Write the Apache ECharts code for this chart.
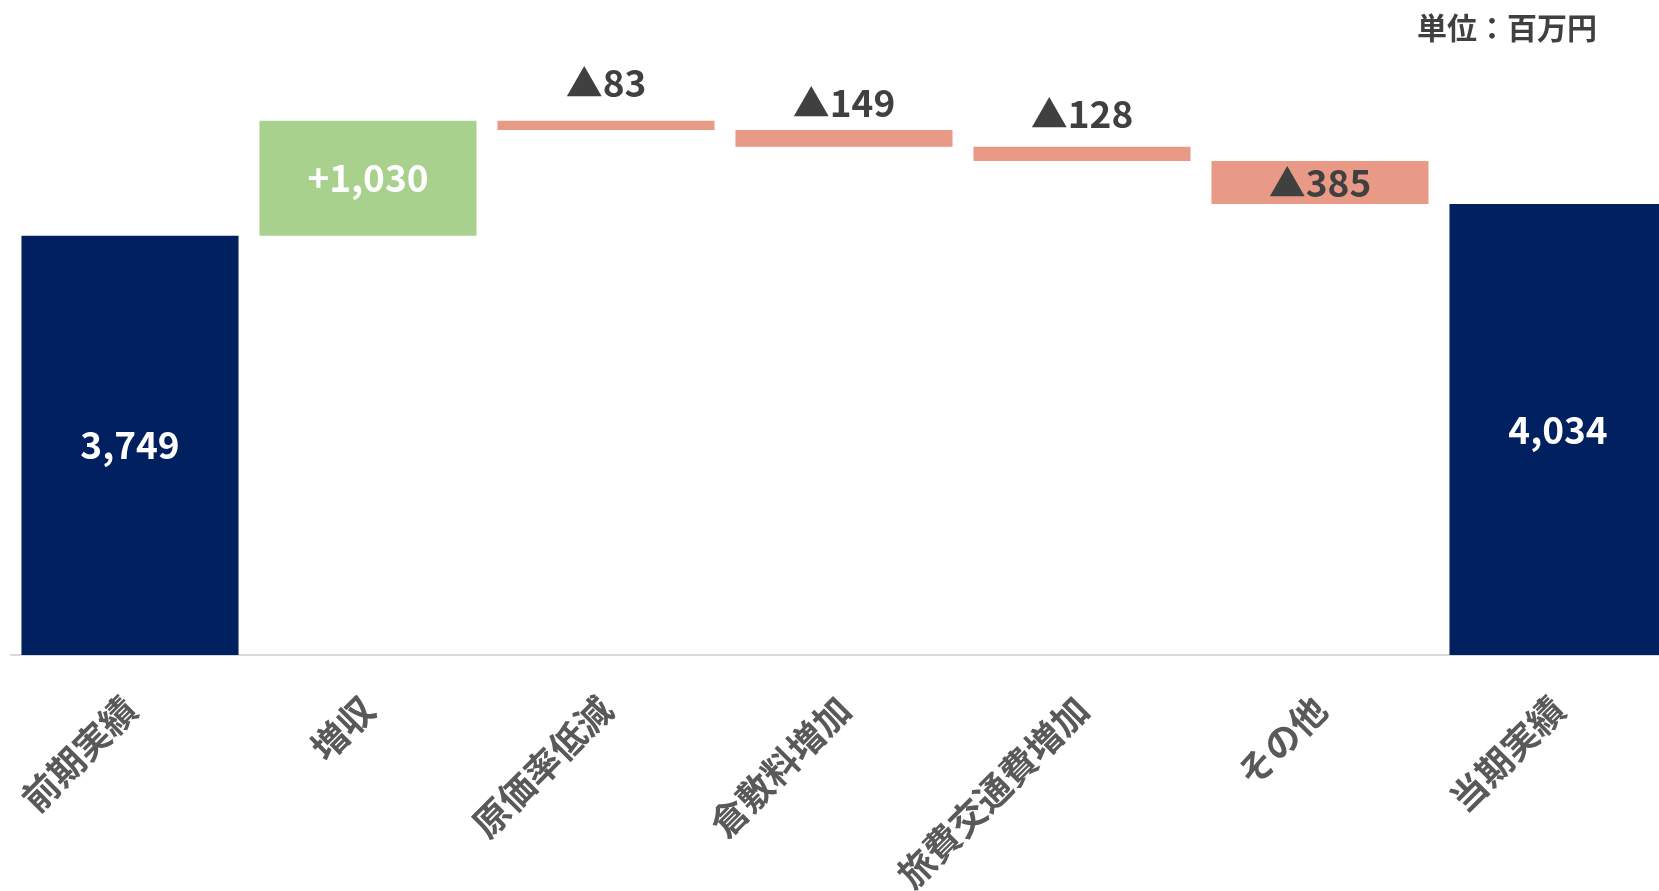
<!DOCTYPE html>
<html>
<head>
<meta charset="utf-8">
<script src="https://cdn.jsdelivr.net/npm/echarts@6/dist/echarts.min.js"></script>
<style>
  html, body { margin: 0; padding: 0; background: #ffffff; overflow: hidden; }
  #chart { width: 1680px; height: 891px; }
</style>
</head>
<body>
<div id="chart"></div>
<script>
// 営業利益の増減要因（単位：百万円）
const categories = ['前期実績', '増収', '原価率低減', '倉敷料増加', '旅費交通費増加', 'その他', '当期実績'];
const kinds = ['total', 'delta', 'delta', 'delta', 'delta', 'delta', 'total'];
const values = [3749, 1030, -83, -149, -128, -385, 4034];
const unitText = '単位：百万円';

// label placement per bar (thin bars carry their label above)
const labelPlacement = ['inside', 'inside', 'top', 'top', 'top', 'inside', 'inside'];
const labelGap = [0, 0, 19, 9, 14, 0, 0];

const NAVY = '#002060';
const GREEN = '#A9D18E';
const SALMON = '#E99A86';
const DARK = '#404040';
const FONT = "'Noto Sans CJK JP', 'Noto Sans', sans-serif";

// invisible base + visible step for each bar
const baseData = [];
const stepData = [];
let running = 0;
values.forEach((v, i) => {
  let base, h, color, text, textColor;
  if (kinds[i] === 'total') {
    base = 0; h = v; running = v;
    color = NAVY; textColor = '#ffffff';
    text = v.toLocaleString('en-US');
  } else if (v >= 0) {
    base = running; h = v; running += v;
    color = GREEN; textColor = '#ffffff';
    text = '+' + v.toLocaleString('en-US');
  } else {
    running += v; base = running; h = -v;
    color = SALMON; textColor = DARK;
    text = '▲' + (-v).toLocaleString('en-US');
  }
  baseData.push(base);
  stepData.push({
    value: h,
    itemStyle: { color: color },
    label: {
      show: true,
      position: labelPlacement[i],
      distance: labelGap[i],
      color: textColor,
      formatter: () => text
    }
  });
});

const chart = echarts.init(document.getElementById('chart'), null, { renderer: 'canvas' });
chart.setOption({
  animation: false,
  backgroundColor: '#ffffff',
  grid: { left: 11, right: 3, top: 96, bottom: 236, containLabel: false, outerBoundsMode: 'none' },
  xAxis: {
    type: 'category',
    data: categories,
    axisTick: { show: false },
    axisLine: { show: true, lineStyle: { color: '#D9D9D9', width: 2 } },
    axisLabel: {
      interval: 0,
      rotate: 45,
      margin: 48,
      fontSize: 36,
      fontWeight: 'bold',
      color: '#595959',
      fontFamily: FONT
    }
  },
  yAxis: {
    type: 'value',
    min: 0,
    max: 5000,
    show: false,
    splitLine: { show: false }
  },
  series: [
    {
      name: 'base',
      type: 'bar',
      stack: 'wf',
      silent: true,
      barCategoryGap: '8.8%',
      itemStyle: { color: 'rgba(0,0,0,0)' },
      data: baseData
    },
    {
      name: 'step',
      type: 'bar',
      stack: 'wf',
      barCategoryGap: '8.8%',
      label: {
        fontSize: 37,
        fontWeight: 'bold',
        fontFamily: FONT
      },
      data: stepData
    }
  ],
  graphic: [
    {
      type: 'text',
      x: 1597,
      y: 28,
      style: {
        text: unitText,
        align: 'right',
        verticalAlign: 'middle',
        fontSize: 30,
        fontWeight: 'bold',
        fill: DARK,
        fontFamily: FONT
      }
    }
  ]
});
</script>
</body>
</html>
